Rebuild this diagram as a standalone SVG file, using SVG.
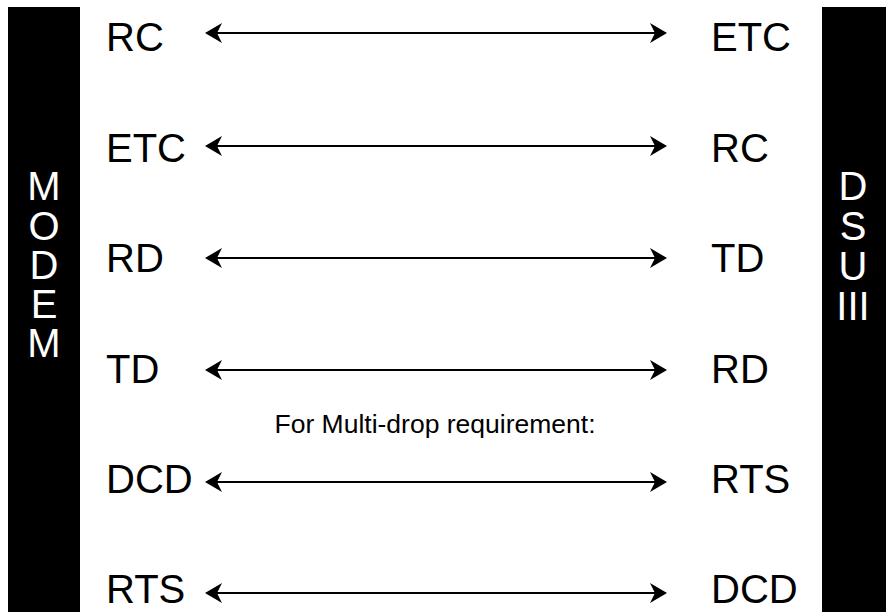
<svg xmlns="http://www.w3.org/2000/svg" width="886" height="612" viewBox="0 0 886 612">
<style>
.bar{fill:#000}
.vt{font-family:"Liberation Sans",Arial,sans-serif;font-size:40px;fill:#fff;text-anchor:middle}
.lbl{font-family:"Liberation Sans",Arial,sans-serif;font-size:40px;fill:#000}
.note{font-family:"Liberation Sans",Arial,sans-serif;font-size:26.5px;fill:#000;text-anchor:middle}
.conn{stroke:#000;stroke-width:2;fill:none;marker-start:url(#ah);marker-end:url(#ah)}
</style>
<defs>
<marker id="ah" markerUnits="userSpaceOnUse" viewBox="0 0 17 20" refX="15" refY="10" markerWidth="17" markerHeight="20" orient="auto-start-reverse">
<path d="M0,0 L17,10 L0,20 L5,10 Z" fill="#000"/>
</marker>
</defs>
<rect width="886" height="612" fill="#fff"/>
<g id="modem">
<rect class="bar" x="8" y="7" width="72" height="605"/>
<text class="vt"><tspan x="44" y="200">M</tspan><tspan x="44" y="239.5">O</tspan><tspan x="44" y="279">D</tspan><tspan x="44" y="318">E</tspan><tspan x="44" y="357">M</tspan></text>
</g>
<g id="dsu">
<rect class="bar" x="822" y="7" width="64" height="605"/>
<text class="vt"><tspan x="853" y="200">D</tspan><tspan x="853" y="240">S</tspan><tspan x="853" y="280">U</tspan><tspan x="853" y="320">III</tspan></text>
</g>
<g id="left-labels">
<text class="lbl" x="106" y="51">RC</text>
<text class="lbl" x="106" y="162">ETC</text>
<text class="lbl" x="106" y="272">RD</text>
<text class="lbl" x="106" y="383">TD</text>
<text class="lbl" x="106" y="493">DCD</text>
<text class="lbl" x="106" y="603">RTS</text>
</g>
<g id="right-labels">
<text class="lbl" x="711" y="51">ETC</text>
<text class="lbl" x="711" y="162">RC</text>
<text class="lbl" x="711" y="272">TD</text>
<text class="lbl" x="711" y="383">RD</text>
<text class="lbl" x="711" y="493">RTS</text>
<text class="lbl" x="711" y="603">DCD</text>
</g>
<g id="note">
<text class="note" x="435" y="433">For Multi-drop requirement:</text>
</g>
<g id="connectors">
<line class="conn" x1="207" y1="33" x2="665" y2="33"/>
<line class="conn" x1="207" y1="146" x2="665" y2="146"/>
<line class="conn" x1="207" y1="258" x2="665" y2="258"/>
<line class="conn" x1="207" y1="370" x2="665" y2="370"/>
<line class="conn" x1="207" y1="482" x2="665" y2="482"/>
<line class="conn" x1="207" y1="593" x2="665" y2="593"/>
</g>
</svg>
